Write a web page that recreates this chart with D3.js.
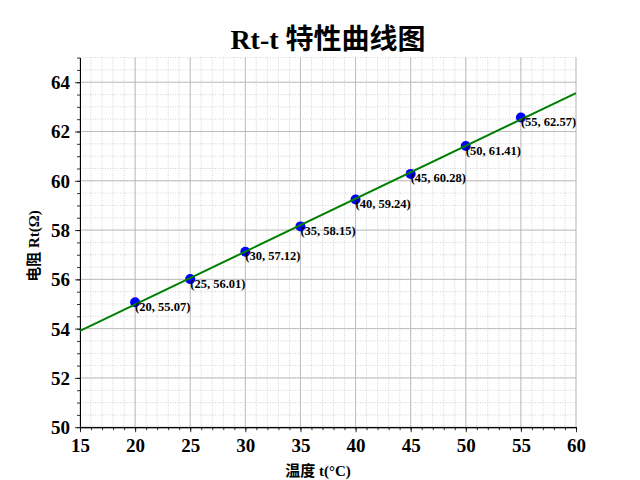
<!DOCTYPE html>
<html><head><meta charset="utf-8">
<script src="https://cdn.jsdelivr.net/npm/d3@7"></script>
<style>
body{margin:0;background:#fff;}
text{font-family:"Liberation Serif","DejaVu Serif","Noto Sans CJK SC",serif;}
</style></head>
<body><svg id="c" width="640" height="480"></svg>
<script>
const temps = [20, 25, 30, 35, 40, 45, 50, 55];
const resist = [55.07, 56.01, 57.12, 58.15, 59.24, 60.28, 61.41, 62.57];
const fitX = [15, 60];
const fitY = [53.91, 63.56];
const xTicks = [15, 20, 25, 30, 35, 40, 45, 50, 55, 60];
const yTicks = [50, 52, 54, 56, 58, 60, 62, 64];
const titleText = "Rt-t 特性曲线图";
const xLabel = "温度 t(°C)";
const yLabel = "电阻 Rt(Ω)";

const svg = d3.select("#c");
const L = 80, R = 576, T = 57.6, B = 427.2;
const x = d3.scaleLinear().domain([15, 60]).range([L, R]);
const y = d3.scaleLinear().domain([50, 65]).range([B, T]);

const xMinor = d3.range(15, 60.001, 1);
const yMinor = d3.range(50, 65.001, 0.5);

const g = svg.append("g");
// minor grid
g.selectAll(".mx").data(xMinor).enter().append("line")
  .attr("x1", d => x(d)).attr("x2", d => x(d)).attr("y1", T).attr("y2", B)
  .attr("stroke", "#c8c8c8").attr("stroke-width", 0.8).attr("stroke-dasharray", "1,1.5");
g.selectAll(".my").data(yMinor).enter().append("line")
  .attr("y1", d => y(d)).attr("y2", d => y(d)).attr("x1", L).attr("x2", R)
  .attr("stroke", "#c8c8c8").attr("stroke-width", 0.8).attr("stroke-dasharray", "1,1.5");
// major grid
g.selectAll(".Mx").data(xTicks).enter().append("line")
  .attr("x1", d => x(d)).attr("x2", d => x(d)).attr("y1", T).attr("y2", B)
  .attr("stroke", "#b0b0b0").attr("stroke-width", 0.8);
g.selectAll(".My").data(yTicks).enter().append("line")
  .attr("y1", d => y(d)).attr("y2", d => y(d)).attr("x1", L).attr("x2", R)
  .attr("stroke", "#b0b0b0").attr("stroke-width", 0.8);

// axes
const xAxis = svg.append("g").attr("transform", `translate(0,${B})`)
  .call(d3.axisBottom(x).tickValues(xTicks).tickSize(5).tickPadding(4).tickSizeOuter(0));
const xAxisMinor = svg.append("g").attr("transform", `translate(0,${B})`)
  .call(d3.axisBottom(x).tickValues(xMinor).tickSize(3).tickFormat("").tickSizeOuter(0));
const yAxis = svg.append("g").attr("transform", `translate(${L},0)`)
  .call(d3.axisLeft(y).tickValues(yTicks).tickSize(5).tickPadding(5).tickSizeOuter(0));
const yAxisMinor = svg.append("g").attr("transform", `translate(${L},0)`)
  .call(d3.axisLeft(y).tickValues(yMinor).tickSize(3).tickFormat("").tickSizeOuter(0));
[xAxis, yAxis, xAxisMinor, yAxisMinor].forEach(a => {
  a.selectAll("path").attr("stroke", "#000").attr("stroke-width", 1);
  a.selectAll("line").attr("stroke", "#000").attr("stroke-width", 0.8);
  a.selectAll("text").attr("font-family", "Liberation Serif, serif")
    .attr("font-size", 19).attr("font-weight", "bold").attr("fill", "#000");
});
xAxis.selectAll("text").attr("y", 25).attr("dy", 0);
yAxis.selectAll("text").attr("dy", "0.34em");

// fit line
const line = d3.line().x(d => x(d[0])).y(d => y(d[1]));
const pts = d3.zip(temps, resist);
svg.selectAll(".pt").data(pts).enter().append("circle")
  .attr("cx", d => x(d[0])).attr("cy", d => y(d[1])).attr("r", 5)
  .attr("fill", "#0000ff");
svg.append("path").datum(d3.zip(fitX, fitY)).attr("d", line)
  .attr("fill", "none").attr("stroke", "#008000").attr("stroke-width", 2);

svg.selectAll(".lb").data(pts).enter().append("text")
  .attr("x", d => x(d[0])).attr("y", d => y(d[1]) + 8.5)
  .attr("font-size", 12.5).attr("font-weight", "bold").attr("fill", "#000")
  .text(d => `(${d[0]}, ${d[1].toFixed(2)})`);

// title
svg.append("text").attr("x", (L + R) / 2).attr("y", 49).attr("text-anchor", "middle")
  .attr("font-size", 28).attr("font-weight", "bold")
  .style("font-family", "'Liberation Serif','Noto Sans CJK SC',serif")
  .text(titleText);
svg.append("text").attr("x", 318).attr("y", 476).attr("text-anchor", "middle")
  .attr("font-size", 15).attr("font-weight", "bold")
  .style("font-family", "'Liberation Serif','Noto Sans CJK SC',serif")
  .text(xLabel);
svg.append("text").attr("transform", `translate(39,246) rotate(-90)`)
  .attr("text-anchor", "middle")
  .attr("font-size", 15).attr("font-weight", "bold")
  .style("font-family", "'Liberation Serif','Noto Sans CJK SC',serif")
  .text(yLabel);
</script></body></html>
